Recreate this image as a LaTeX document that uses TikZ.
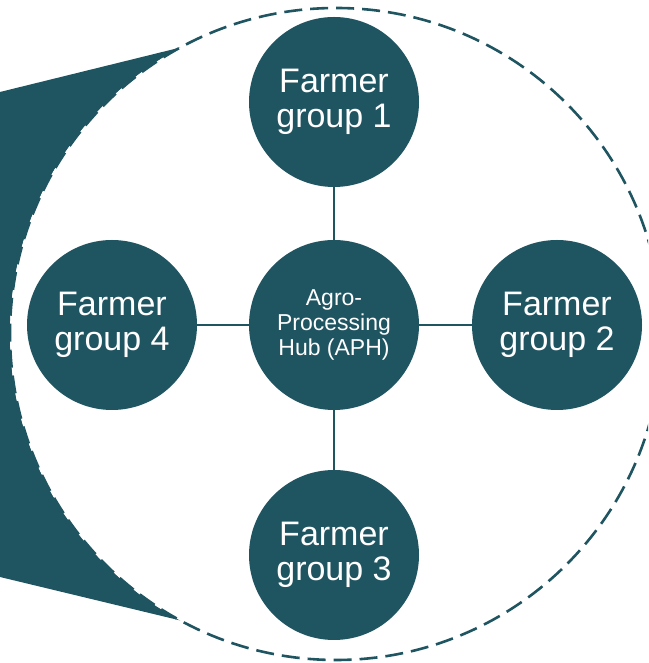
\documentclass[tikz,border=0pt]{standalone}
\usepackage{fontspec}
\setmainfont{Liberation Sans}
\usepackage{tikz}
\usetikzlibrary{positioning}
\definecolor{aphteal}{RGB}{31,84,97}

\begin{document}
\begin{tikzpicture}[
  x=1pt, y=1pt,
  group/.style={circle, fill=aphteal, text=white, minimum size=170pt, inner sep=0pt, align=center, font=\fontsize{34}{35}\selectfont},
  hub/.style={group, font=\fontsize{23}{25}\selectfont},
  link/.style={draw=aphteal, line width=2pt},
  zoomring/.style={draw=aphteal, fill=white, line width=2.6pt, dash pattern=on 18pt off 8pt}
]
\useasboundingbox (0,0) rectangle (648,663);
\clip (0,0) rectangle (648,663);
\coordinate (ring) at (336,329);
% wedge pointing into the ring
\fill[aphteal] (0,571) -- ([shift={(118.5:326pt)}]ring) arc[start angle=118.5, end angle=241.5, radius=326pt] -- (0,86) -- cycle;
\path[zoomring] (ring) circle[radius=326pt];
\node[hub] (aph) at (334,338) {Agro-\\Processing\\Hub (APH)};
\node[group] (g1) at (334,561) {Farmer\\group 1};
\node[group] (g2) at (557,338) {Farmer\\group 2};
\node[group] (g3) at (334,108) {Farmer\\group 3};
\node[group] (g4) at (112,338) {Farmer\\group 4};
\draw[link] (aph) -- (g1);
\draw[link] (aph) -- (g2);
\draw[link] (aph) -- (g3);
\draw[link] (aph) -- (g4);
\end{tikzpicture}
\end{document}
